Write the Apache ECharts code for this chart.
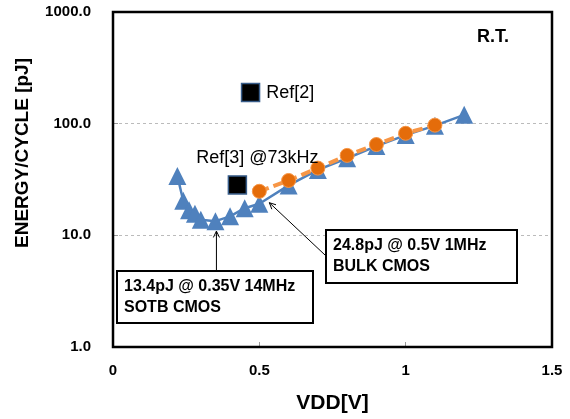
<!DOCTYPE html>
<html>
<head>
<meta charset="utf-8">
<script src="https://cdn.jsdelivr.net/npm/echarts@6/dist/echarts.min.js"></script>
<style>
  html, body { margin: 0; padding: 0; background: #fff; }
  #chart { width: 570px; height: 419px; }
</style>
</head>
<body>
<div id="chart"></div>
<script>
// SOTB CMOS (blue triangles)
const sotbVdd = [0.22, 0.24, 0.26, 0.28, 0.30, 0.35, 0.40, 0.45, 0.5, 0.6, 0.7, 0.8, 0.9, 1.0, 1.1, 1.2];
const sotbEnergy = [34, 20.4, 16.8, 15.6, 13.8, 13.4, 14.8, 17.5, 19.2, 28, 38.5, 49, 63, 79, 96, 120];

// BULK CMOS (orange circles)
const bulkVdd = [0.5, 0.6, 0.7, 0.8, 0.9, 1.0, 1.1];
const bulkEnergy = [24.8, 31, 40, 52, 65, 82, 97];

// reference points
const refNames = ['Ref[2]', 'Ref[3] @73kHz'];
const refVdd = [0.47, 0.425];
const refEnergy = [190, 28.3];

const yTicks = [1, 10, 100, 1000];
const xTicks = [0, 0.5, 1, 1.5];

const FONT = '"Liberation Sans", Arial, sans-serif';
const chart = echarts.init(document.getElementById('chart'));

const zip = (xs, ys) => xs.map((x, i) => [x, ys[i]]);

chart.setOption({
  animation: false,
  grid: { left: 113, right: 18, top: 12, bottom: 70 },
  xAxis: {
    type: 'value', min: 0, max: 1.5, interval: 0.5,
    name: 'VDD[V]', nameLocation: 'middle', nameGap: 46,
    nameTextStyle: { fontFamily: FONT, fontWeight: 'bold', fontSize: 21, color: '#000' },
    axisLine: { show: false },
    axisTick: { show: true, inside: true, length: 5, lineStyle: { color: '#999' } },
    axisLabel: { fontFamily: FONT, fontWeight: 'bold', fontSize: 15, color: '#000', margin: 16,
      formatter: v => xTicks.includes(v) ? String(v) : '' },
    splitLine: { show: false }
  },
  yAxis: {
    type: 'log', logBase: 10, min: 1, max: 1000,
    axisLine: { show: false },
    axisTick: { show: true, inside: true, length: 5, lineStyle: { color: '#999' } },
    axisLabel: { fontFamily: FONT, fontWeight: 'bold', fontSize: 15, color: '#000', margin: 22,
      formatter: v => yTicks.includes(Math.round(v)) ? Number(v).toFixed(1) : '' },
    splitLine: { show: true, lineStyle: { color: '#bbb', type: [3, 3], width: 1 } }
  },
  series: [
    {
      name: 'SOTB CMOS', type: 'line', data: zip(sotbVdd, sotbEnergy),
      symbol: 'triangle', symbolSize: 18,
      lineStyle: { color: '#4F81BD', width: 2.5 },
      itemStyle: { color: '#4F81BD' },
      z: 2
    },
    {
      name: 'BULK CMOS', type: 'line', data: zip(bulkVdd, bulkEnergy),
      symbol: 'circle', symbolSize: 14,
      lineStyle: { color: '#F79646', width: 4, type: [10, 5] },
      itemStyle: { color: '#E46C0A', borderColor: '#F79646', borderWidth: 1 },
      z: 3
    },
    {
      name: 'Ref', type: 'scatter', data: zip(refVdd, refEnergy),
      symbol: 'rect', symbolSize: 18,
      itemStyle: { color: '#000', opacity: 1, borderColor: '#385D8A', borderWidth: 1.5 },
      label: {
        show: true, fontFamily: FONT, fontSize: 18, color: '#000',
        formatter: p => refNames[p.dataIndex]
      },
      labelLayout: p => p.dataIndex === 0
        ? { align: 'left', x: p.rect.x + p.rect.width + 6, y: p.rect.y + p.rect.height / 2, verticalAlign: 'middle' }
        : { x: p.rect.x + p.rect.width / 2 + 20, y: p.rect.y - 17, align: 'center', verticalAlign: 'middle' },
      z: 4
    }
  ]
});

// plot frame, annotation boxes + arrows
const tl = chart.convertToPixel({ gridIndex: 0 }, [0, 1000]);
const br = chart.convertToPixel({ gridIndex: 0 }, [1.5, 1]);
const tip1 = chart.convertToPixel({ gridIndex: 0 }, [0.5, 19.2]);
const tip2 = chart.convertToPixel({ gridIndex: 0 }, [0.35, 13.4]);

function arrow(x1, y1, x2, y2) {
  const a = Math.atan2(y2 - y1, x2 - x1), L = 7, w = 0.45;
  return [
    { type: 'line', shape: { x1, y1, x2, y2 }, style: { stroke: '#000', lineWidth: 1 }, z: 10 },
    { type: 'polyline', shape: { points: [
      [x2 - L * Math.cos(a - w), y2 - L * Math.sin(a - w)], [x2, y2],
      [x2 - L * Math.cos(a + w), y2 - L * Math.sin(a + w)]] },
      style: { stroke: '#000', lineWidth: 1, fill: null }, z: 10 }
  ];
}

function box(x, y, w, h, lines) {
  return [
    { type: 'rect', shape: { x, y, width: w, height: h }, style: { fill: '#fff', stroke: '#000', lineWidth: 2 }, z: 11 },
    { type: 'text', x: x + 7, y: y + h / 2, style: { text: lines.join('\n'), fontFamily: FONT, fontWeight: 'bold',
      fontSize: 16, lineHeight: 21, fill: '#000', verticalAlign: 'middle', align: 'left' }, z: 12 }
  ];
}

chart.setOption({
  graphic: [
    { type: 'rect', shape: { x: tl[0], y: tl[1], width: br[0] - tl[0], height: br[1] - tl[1] },
      style: { fill: null, stroke: '#000', lineWidth: 2.5 }, z: 9 },
    { type: 'text', x: 23, y: 153, rotation: Math.PI / 2,
      style: { text: 'ENERGY/CYCLE [pJ]', fontFamily: FONT, fontWeight: 'bold', fontSize: 19, fill: '#000',
        align: 'center', verticalAlign: 'middle' } },
    { type: 'text', x: 477, y: 37, style: { text: 'R.T.', fontFamily: FONT, fontWeight: 'bold', fontSize: 18, fill: '#000', verticalAlign: 'middle' } },
    ...arrow(325, 255, tip1[0] + 10, tip1[1] - 1),
    ...arrow(tip2[0] + 1, 271, tip2[0] + 1, tip2[1] + 10),
    ...box(326, 230, 191, 53, ['24.8pJ @ 0.5V 1MHz', 'BULK CMOS']),
    ...box(117, 271, 196, 52, ['13.4pJ @ 0.35V 14MHz', 'SOTB CMOS'])
  ]
});
</script>
</body>
</html>
